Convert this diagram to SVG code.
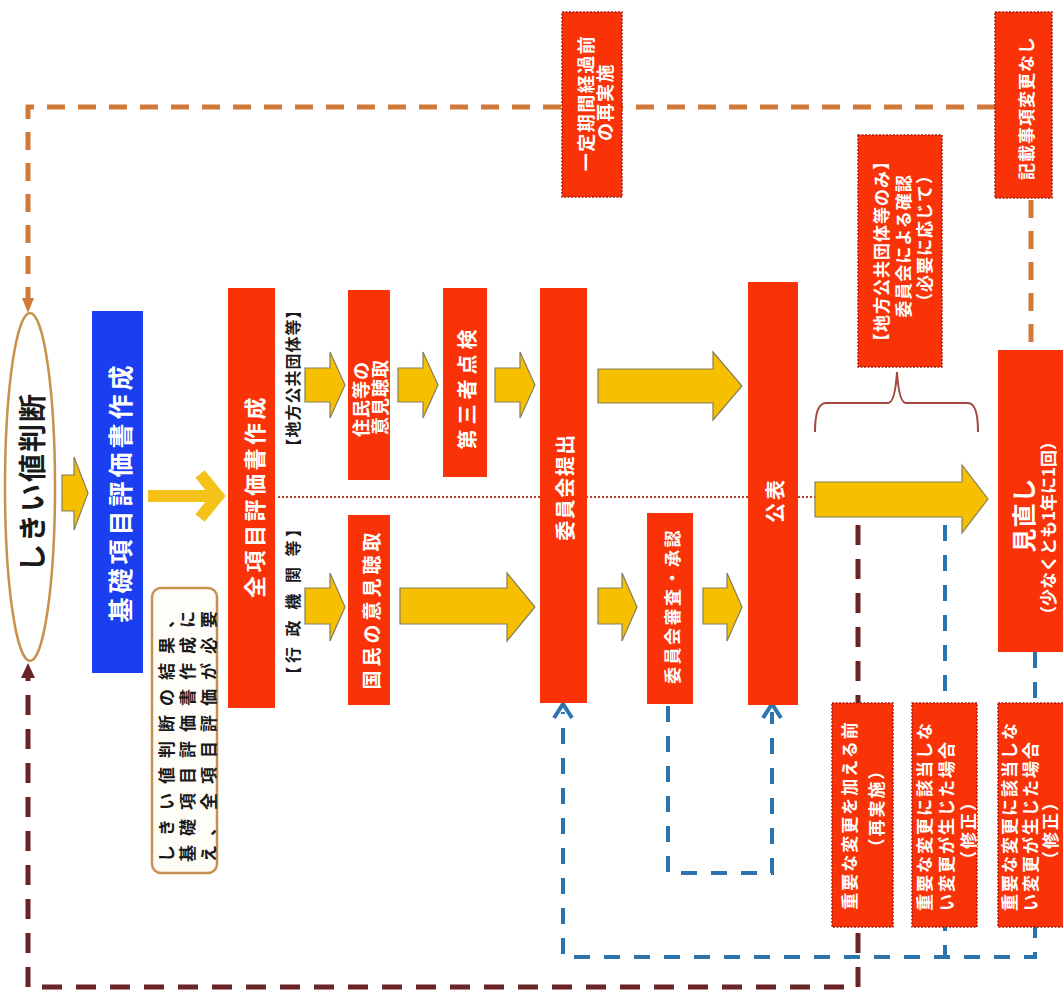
<svg xmlns="http://www.w3.org/2000/svg" width="1063" height="992" viewBox="0 0 1063 992">
<style>
.t{font-family:"Noto Sans CJK JP","Noto Sans CJK SC",sans-serif;font-weight:bold;text-anchor:middle;dominant-baseline:central}
.s{text-anchor:start}
.w{fill:#ffffff}
.k{fill:#1a1a1a}
.red{fill:#fa3208}
.lbl{fill:#fa3208;stroke:#a81c10;stroke-width:1.5;stroke-dasharray:2 1.5}
.ya{fill:#f6c000;stroke:#857d5c;stroke-width:1.2}
.or{fill:none;stroke:#d07a3a;stroke-width:5;stroke-dasharray:18 13}
.mr{fill:none;stroke:#6b2426;stroke-width:5;stroke-dasharray:20 14}
.bl{fill:none;stroke:#2c74b0;stroke-width:4;stroke-dasharray:16 14}
</style>
<rect width="1063" height="992" fill="#ffffff"/>

<g id="connectors">
  <path class="or" d="M995,107 L28,107 L28,298"/>
  <polygon points="22,298 34,298 28,313" fill="#d07a3a"/>
  <path class="or" d="M1031,200 L1031,350"/>
  <path class="mr" d="M858,525 L858,987 L28,987 L28,678"/>
  <polygon points="21,678 35,678 28,663" fill="#6b2426"/>
  <path class="bl" d="M945,525 L945,957"/>
  <path class="bl" d="M1035,652 L1035,957 L563,957 L563,712"/>
  <path d="M554,718 L563,704 L572,718" fill="none" stroke="#2c74b0" stroke-width="4"/>
  <path class="bl" d="M668,706 L668,873 L772,873 L772,712"/>
  <path d="M763,718 L772,704 L781,718" fill="none" stroke="#2c74b0" stroke-width="4"/>
  <path d="M278,497 L815,497" fill="none" stroke="#b04030" stroke-width="2" stroke-dasharray="2 2"/>
  <path d="M815,432 Q815,403 826,403 L888,403 Q895,403 897,372 Q899,403 906,403 L968,403 Q978,403 978,432" fill="none" stroke="#a04840" stroke-width="2"/>
  <path class="ya" d="M62,475 L74,475 L74,457 L88,493 L74,530 L74,511 L62,511 Z"/>
  <path d="M148,496 L212,496 M200,474 L218,496 L200,518" fill="none" stroke="#f5c21a" stroke-width="12" stroke-linejoin="miter"/>
  <path class="ya" d="M305,368 L330,368 L330,352 L345,385 L330,418 L330,402 L305,402 Z"/>
  <path class="ya" d="M398,368 L423,368 L423,352 L438,385 L423,418 L423,402 L398,402 Z"/>
  <path class="ya" d="M495,368 L520,368 L520,352 L535,385 L520,418 L520,402 L495,402 Z"/>
  <path class="ya" d="M598,369 L713,369 L713,352 L742,386 L713,420 L713,403 L598,403 Z"/>
  <path class="ya" d="M305,588 L330,588 L330,573 L345,607 L330,641 L330,624 L305,624 Z"/>
  <path class="ya" d="M400,588 L507,588 L507,573 L535,607 L507,641 L507,624 L400,624 Z"/>
  <path class="ya" d="M598,588 L622,588 L622,573 L637,607 L622,641 L622,624 L598,624 Z"/>
  <path class="ya" d="M703,588 L727,588 L727,573 L742,607 L727,641 L727,624 L703,624 Z"/>
  <path class="ya" d="M815,482 L962,482 L962,465 L988,499 L962,533 L962,517 L815,517 Z"/>
</g>

<g id="threshold">
  <ellipse cx="30" cy="487" rx="25" ry="174" fill="#ffffff" stroke="#c8924a" stroke-width="2.5"/>
  <text class="t k" font-size="28" letter-spacing="2" transform="translate(31,482) rotate(-90)">しきい値判断</text>
</g>

<g id="basic">
  <rect x="92" y="311" width="51" height="362" fill="#1a3ef0"/>
  <text class="t w" font-size="25" letter-spacing="4" transform="translate(119,492) rotate(-90)">基礎項目評価書作成</text>
</g>

<g id="note">
  <rect x="152" y="588" width="65" height="285" rx="9" fill="#fffdf8" stroke="#c89050" stroke-width="2.5"/>
  <text class="t k s" font-size="17" letter-spacing="9" transform="translate(165,862) rotate(-90)">しきい値判断の結果、</text>
  <text class="t k s" font-size="17" letter-spacing="9" transform="translate(186,862) rotate(-90)">基礎項目評価書作成に</text>
  <text class="t k s" font-size="17" letter-spacing="9" transform="translate(207,862) rotate(-90)">え、全項目評価が必要</text>
</g>

<g id="full">
  <rect class="red" x="228" y="288" width="47" height="420"/>
  <text class="t w" font-size="22" letter-spacing="3.5" transform="translate(253,496) rotate(-90)">全項目評価書作成</text>
</g>

<g id="label-local">
  <text class="t k" font-size="16" letter-spacing="1" transform="translate(292,378) rotate(-90)">【地方公共団体等】</text>
</g>
<g id="label-gov">
  <text class="t k" font-size="16" letter-spacing="3.5" transform="translate(292,600) rotate(-90)">【行 政 機 関 等】</text>
</g>

<g id="residents">
  <rect class="red" x="348" y="290" width="42" height="190"/>
  <text class="t w" font-size="18" letter-spacing="1" transform="translate(360,399) rotate(-90)">住民等の</text>
  <text class="t w" font-size="18" letter-spacing="1" transform="translate(379,397) rotate(-90)">意見聴取</text>
</g>

<g id="third">
  <rect class="red" x="443" y="288" width="44" height="189"/>
  <text class="t w" font-size="20" letter-spacing="5" transform="translate(466,387) rotate(-90)">第三者点検</text>
</g>

<g id="public">
  <rect class="red" x="348" y="515" width="42" height="190"/>
  <text class="t w" font-size="19" letter-spacing="4" transform="translate(370,609) rotate(-90)">国民の意見聴取</text>
</g>

<g id="submit">
  <rect class="red" x="540" y="288" width="47" height="415"/>
  <text class="t w" font-size="20" letter-spacing="1.5" transform="translate(564,487) rotate(-90)">委員会提出</text>
</g>

<g id="review">
  <rect class="red" x="647" y="513" width="46" height="191"/>
  <text class="t w" font-size="17" letter-spacing="2.5" transform="translate(671,606) rotate(-90)">委員会審査・承認</text>
</g>

<g id="announce">
  <rect class="red" x="748" y="282" width="50" height="423"/>
  <text class="t w" font-size="20" letter-spacing="3" transform="translate(774,500) rotate(-90)">公表</text>
</g>

<g id="check">
  <rect class="lbl" x="858" y="135" width="84" height="232"/>
  <text class="t w" font-size="17" letter-spacing="1" transform="translate(880,251) rotate(-90)">【地方公共団体等のみ】</text>
  <text class="t w" font-size="17" letter-spacing="1" transform="translate(902,246) rotate(-90)">委員会による確認</text>
  <text class="t w" font-size="17" letter-spacing="1" transform="translate(923,238) rotate(-90)">（必要に応じて）</text>
</g>

<g id="minaoshi">
  <rect class="red" x="998" y="350" width="65" height="302"/>
  <text class="t w" font-size="24" letter-spacing="1" transform="translate(1022,515) rotate(-90)">見直し</text>
  <text class="t w" font-size="17" transform="translate(1047,528) rotate(-90)">（少なくとも1年に1回）</text>
</g>

<g id="rerun-period">
  <rect class="lbl" x="562" y="12" width="60" height="185"/>
  <text class="t w" font-size="18" letter-spacing="1.5" transform="translate(585,103) rotate(-90)">一定期間経過前</text>
  <text class="t w" font-size="18" letter-spacing="1.5" transform="translate(604,102) rotate(-90)">の再実施</text>
</g>

<g id="no-change">
  <rect class="lbl" x="995" y="12" width="57" height="186"/>
  <text class="t w" font-size="17" letter-spacing="1" transform="translate(1025,108) rotate(-90)">記載事項変更なし</text>
</g>

<g id="before-major">
  <rect class="lbl" x="832" y="703" width="61" height="224"/>
  <text class="t w" font-size="17" letter-spacing="2" transform="translate(848,815) rotate(-90)">重要な変更を加える前</text>
  <text class="t w" font-size="17" letter-spacing="2" transform="translate(875,808) rotate(-90)">（再実施）</text>
</g>

<g id="minor-1">
  <rect class="lbl" x="912" y="703" width="65" height="224"/>
  <text class="t w s" font-size="17" letter-spacing="2" transform="translate(923,911) rotate(-90)">重要な変更に該当しな</text>
  <text class="t w s" font-size="17" letter-spacing="2" transform="translate(945,911) rotate(-90)">い変更が生じた場合</text>
  <text class="t w" font-size="17" letter-spacing="2" transform="translate(967,830) rotate(-90)">（修正）</text>
</g>

<g id="minor-2">
  <rect class="lbl" x="998" y="703" width="66" height="224"/>
  <text class="t w s" font-size="17" letter-spacing="2" transform="translate(1008,911) rotate(-90)">重要な変更に該当しな</text>
  <text class="t w s" font-size="17" letter-spacing="2" transform="translate(1029,911) rotate(-90)">い変更が生じた場合</text>
  <text class="t w" font-size="17" letter-spacing="2" transform="translate(1049,830) rotate(-90)">（修正）</text>
</g>
</svg>
